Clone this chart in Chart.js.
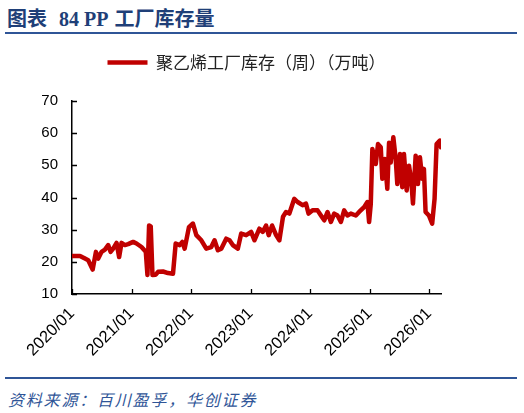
<!DOCTYPE html>
<html>
<head>
<meta charset="utf-8">
<script src="https://cdn.jsdelivr.net/npm/chart.js@4/dist/chart.umd.min.js"></script>
<style>
  html, body { margin: 0; padding: 0; background: #fff; }
  body { width: 524px; height: 413px; position: relative; overflow: hidden; }
  #title {
    position: absolute; left: 7px; top: 3px;
    font: bold 20px "Liberation Serif", "Noto Sans CJK SC", serif;
    color: #1f3f78; white-space: nowrap;
  }
  #title .num { margin-left: 12px; margin-right: 6px; }
  .rule { position: absolute; left: 5px; width: 512px; height: 2px; background: #2f5597; }
  #source {
    position: absolute; left: 8px; top: 387px;
    font: italic 16px "Noto Sans CJK SC", sans-serif;
    letter-spacing: 1.8px; color: #2f5597; white-space: nowrap;
  }
  #wrap { position: absolute; left: 0; top: 40px; width: 524px; height: 335px; }
</style>
</head>
<body>
<div id="title">图表<span class="num">84 PP</span>工厂库存量</div>
<div class="rule" style="top:32px"></div>
<div id="wrap"><canvas id="chart"></canvas></div>
<div class="rule" style="top:377px"></div>
<div id="source">资料来源：百川盈孚，华创证券</div>

<script>
// 时间（年份小数）和库存值（万吨）
const t = [
  2020.000, 2020.134, 2020.218, 2020.273, 2020.347, 2020.402, 2020.441, 2020.497,
  2020.553, 2020.608, 2020.648, 2020.692, 2020.749, 2020.792, 2020.832, 2020.888,
  2020.943, 2021.027, 2021.084, 2021.168, 2021.240, 2021.268, 2021.295, 2021.323,
  2021.352, 2021.407, 2021.446, 2021.529, 2021.613, 2021.697, 2021.742, 2021.809,
  2021.854, 2021.893, 2021.965, 2022.032, 2022.089, 2022.173, 2022.256, 2022.340,
  2022.395, 2022.451, 2022.508, 2022.591, 2022.647, 2022.702, 2022.786, 2022.843,
  2022.926, 2023.010, 2023.065, 2023.149, 2023.204, 2023.261, 2023.305, 2023.362,
  2023.429, 2023.484, 2023.545, 2023.596, 2023.652, 2023.735, 2023.791, 2023.874,
  2023.931, 2023.975, 2024.042, 2024.126, 2024.183, 2024.238, 2024.293, 2024.350,
  2024.405, 2024.461, 2024.518, 2024.573, 2024.628, 2024.685, 2024.769, 2024.824,
  2024.908, 2024.963, 2024.992, 2025.020, 2025.047, 2025.104, 2025.142, 2025.188,
  2025.214, 2025.255, 2025.298, 2025.327, 2025.355, 2025.399, 2025.439, 2025.466,
  2025.511, 2025.549, 2025.578, 2025.623, 2025.662, 2025.700, 2025.729, 2025.774,
  2025.812, 2025.846, 2025.884, 2025.913, 2025.941, 2025.997, 2026.052, 2026.092,
  2026.126, 2026.181, 2026.200
];
const inventory = [
  21.8, 21.8, 21.0, 20.5, 17.6, 23.1, 21.0, 23.1,
  23.8, 25.2, 23.1, 24.1, 25.9, 21.5, 25.9, 25.2,
  25.5, 26.2, 25.7, 24.6, 23.1, 15.9, 31.3, 31.0,
  15.9, 16.0, 16.9, 17.0, 16.5, 16.3, 25.7, 25.2,
  26.2, 24.1, 30.8, 31.9, 28.3, 26.7, 24.1, 24.6,
  26.7, 23.6, 24.1, 27.2, 26.7, 25.2, 24.1, 28.8,
  28.3, 29.3, 26.7, 30.3, 29.3, 31.3, 28.3, 31.3,
  28.3, 26.7, 34.0, 35.5, 35.0, 39.6, 38.6, 37.6,
  38.1, 35.0, 36.0, 36.0, 34.4, 32.9, 35.5, 32.4,
  35.0, 34.4, 32.4, 36.0, 34.4, 35.0, 34.4, 35.5,
  37.0, 38.6, 32.4, 38.0, 55.1, 50.4, 56.6, 55.6,
  45.8, 52.0, 42.7, 57.0, 50.9, 58.7, 52.0, 44.2,
  53.5, 43.2, 53.5, 42.2, 49.9, 45.3, 38.1, 53.0,
  44.2, 52.5, 45.8, 48.9, 35.5, 34.4, 31.9, 39.6,
  56.6, 57.7, 55.6
];
const yearTicks = [2020, 2021, 2022, 2023, 2024, 2025, 2026];
const seriesName = '聚乙烯工厂库存（周）（万吨）';

// 图例下方留出空白，并整体右移一点
const legendGap = {
  id: 'legendGap',
  beforeInit(chart) {
    const fit = chart.legend.fit;
    chart.legend.fit = function () {
      fit.call(this);
      this.height += 20;
    };
  },
  afterLayout(chart) {
    chart.legend.left += 26;
    chart.legend.right += 26;
  }
};

// 刻度线画在坐标轴内侧
const innerTicks = {
  id: 'innerTicks',
  afterDraw(chart) {
    const { ctx, scales: { x, y } } = chart;
    ctx.save();
    ctx.strokeStyle = '#000';
    ctx.lineWidth = 1.3;
    ctx.beginPath();
    yearTicks.forEach(v => {
      const px = Math.round(x.getPixelForValue(v)) + 0.5;
      ctx.moveTo(px, y.bottom);
      ctx.lineTo(px, y.bottom - 5);
    });
    y.ticks.forEach(tk => {
      const py = Math.round(y.getPixelForValue(tk.value)) + 0.5;
      ctx.moveTo(x.left, py);
      ctx.lineTo(x.left + 5, py);
    });
    ctx.stroke();
    ctx.restore();
  }
};

new Chart(document.getElementById('chart'), {
  type: 'line',
  data: {
    datasets: [{
      label: seriesName,
      data: t.map((v, i) => ({ x: v, y: inventory[i] })),
      borderColor: '#c00000',
      backgroundColor: '#c00000',
      borderWidth: 4.5,
      borderCapStyle: 'round',
      borderJoinStyle: 'round',
      pointRadius: 0,
      tension: 0,
      fill: false
    }]
  },
  options: {
    responsive: true,
    maintainAspectRatio: false,
    animation: false,
    layout: { padding: { left: 0, right: 83, top: 4, bottom: 0 } },
    plugins: {
      legend: {
        display: true,
        labels: {
          usePointStyle: true,
          pointStyle: 'line',
          pointStyleWidth: 40,
          padding: 10,
          color: '#222',
          font: { family: '"Noto Sans CJK SC", sans-serif', size: 17 }
        }
      },
      tooltip: { enabled: false }
    },
    scales: {
      x: {
        type: 'linear',
        min: 2020,
        max: 2026.2,
        afterFit(scale) { scale.height = 81; },
        grid: { display: true, drawOnChartArea: false, drawTicks: false },
        border: { display: true, color: '#000', width: 1.5 },
        ticks: {
          stepSize: 1,
          includeBounds: false,
          autoSkip: false,
          minRotation: 45,
          maxRotation: 45,
          padding: 10,
          color: '#000',
          font: { family: '"Liberation Sans", Arial, sans-serif', size: 16.5 },
          callback: v => v + '/01'
        }
      },
      y: {
        min: 10,
        max: 70,
        afterFit(scale) { scale.width = 72; },
        grid: { display: true, drawOnChartArea: false, drawTicks: false },
        border: { display: true, color: '#000', width: 1.5 },
        ticks: {
          stepSize: 10,
          padding: 14,
          color: '#000',
          font: { family: '"Liberation Sans", Arial, sans-serif', size: 15 }
        }
      }
    }
  },
  plugins: [legendGap, innerTicks]
});
</script>
</body>
</html>
